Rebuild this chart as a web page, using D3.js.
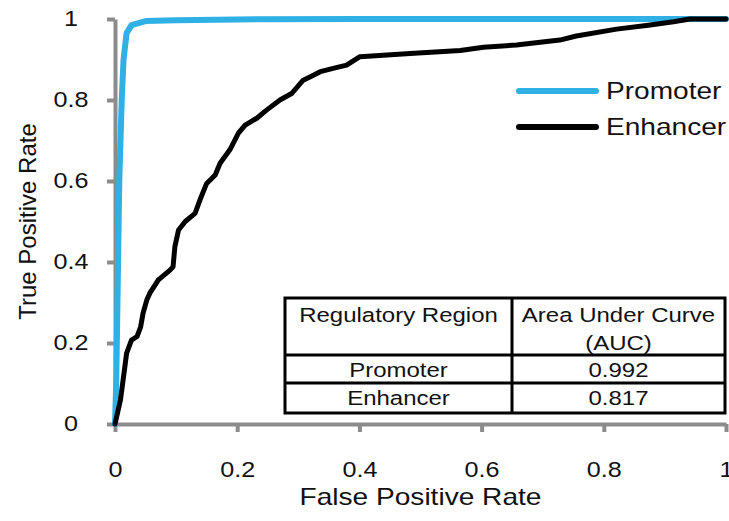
<!DOCTYPE html>
<html>
<head>
<meta charset="utf-8">
<script src="https://cdn.jsdelivr.net/npm/d3@7"></script>
<style>
  body { margin: 0; background: #fff; }
  svg { display: block; font-family: "Liberation Sans", Arial, sans-serif; }
  .axis path, .axis line { stroke: #8c8c8c; stroke-width: 4; }
  .axis text { fill: #111; }
</style>
</head>
<body>
<div id="chart"></div>
<script>
/* ============================================================
   DATA
============================================================ */

const xTicks = [0, 0.2, 0.4, 0.6, 0.8, 1];
const yTicks = [0, 0.2, 0.4, 0.6, 0.8, 1];

const promoterFPR = [0, 0.002, 0.004, 0.007, 0.011, 0.014, 0.019, 0.027, 0.05, 0.1, 0.2, 0.4, 1];
const promoterTPR = [0, 0.1, 0.3, 0.6, 0.8, 0.9, 0.965, 0.985, 0.995, 0.997, 0.999, 1, 1];

const enhancerFPR = [0, 0.009, 0.016, 0.019, 0.027, 0.036, 0.042, 0.046, 0.052, 0.057, 0.071, 0.09, 0.095,
    0.098, 0.104, 0.115, 0.131, 0.139, 0.15, 0.164, 0.172, 0.188, 0.202, 0.213, 0.232, 0.248, 0.27,
    0.289, 0.308, 0.319, 0.336, 0.357, 0.379, 0.401, 0.483, 0.565, 0.603, 0.657, 0.728, 0.755,
    0.821, 0.876, 0.914, 0.941, 1];
const enhancerTPR = [0, 0.06, 0.14, 0.175, 0.207, 0.216, 0.24, 0.274, 0.306, 0.323, 0.356, 0.38, 0.388,
    0.438, 0.479, 0.5, 0.52, 0.553, 0.594, 0.615, 0.644, 0.677, 0.718, 0.738, 0.755, 0.775, 0.8,
    0.816, 0.849, 0.857, 0.87, 0.878, 0.886, 0.907, 0.915, 0.922, 0.93, 0.936, 0.948, 0.958,
    0.975, 0.985, 0.993, 1, 1];

const seriesNames = ["Promoter", "Enhancer"];
const seriesColors = ["#2fb1e5", "#000000"];

const tableHeader = ["Regulatory Region", "Area Under Curve", "(AUC)"];
const tableRegions = ["Promoter", "Enhancer"];
const tableAUC = ["0.992", "0.817"];

/* ============================================================
   LAYOUT
============================================================ */

const W = 729, H = 521;
const margin = { top: 19, right: 3, bottom: 97, left: 115 };
const width = W - margin.left - margin.right;
const height = H - margin.top - margin.bottom;
const STRETCH = 1.17;   // the source image is a bit wide, text looks stretched

const svg = d3.select("#chart").append("svg")
    .attr("width", W)
    .attr("height", H);

const g = svg.append("g")
    .attr("transform", `translate(${margin.left},${margin.top})`);

const x = d3.scaleLinear().domain([0, 1]).range([0, width]);
const y = d3.scaleLinear().domain([0, 1]).range([height, 0]);

// widen a text selection to mimic the stretched source
function stretch(sel) {
    sel.each(function () {
        const len = this.getComputedTextLength();
        d3.select(this)
            .attr("textLength", len * STRETCH)
            .attr("lengthAdjust", "spacingAndGlyphs");
    });
}

/* ============================================================
   AXES
============================================================ */

const yAxis = g.append("g")
    .attr("class", "axis")
    .call(d3.axisLeft(y).tickValues(yTicks).tickSize(8).tickSizeOuter(0)
        .tickFormat(d => d));

yAxis.selectAll("text")
    .attr("x", -44)
    .attr("text-anchor", "middle")
    .attr("font-size", "21.5px")
    .call(stretch);

const xAxis = g.append("g")
    .attr("class", "axis")
    .attr("transform", `translate(0,${height})`)
    .call(d3.axisBottom(x).tickValues(xTicks).tickSize(8).tickSizeOuter(0)
        .tickFormat(d => d));

xAxis.selectAll("text")
    .attr("y", 38)
    .attr("font-size", "21.5px")
    .call(stretch);

svg.selectAll(".axis path.domain").attr("stroke-linecap", "butt");

svg.append("text")
    .attr("x", margin.left + width / 2)
    .attr("y", 505)
    .attr("text-anchor", "middle")
    .attr("font-size", "24px")
    .attr("fill", "#111")
    .text("False Positive Rate")
    .call(stretch);

svg.append("text")
    .attr("transform", `translate(36,${margin.top + height / 2}) rotate(-90)`)
    .attr("text-anchor", "middle")
    .attr("font-size", "24px")
    .attr("fill", "#111")
    .text("True Positive Rate");

/* ============================================================
   CURVES
============================================================ */

const line = d3.line()
    .x(d => x(d[0]))
    .y(d => y(d[1]));

const promoter = d3.zip(promoterFPR, promoterTPR);
const enhancer = d3.zip(enhancerFPR, enhancerTPR);

g.append("path")
    .datum(promoter)
    .attr("d", line)
    .attr("fill", "none")
    .attr("stroke", seriesColors[0])
    .attr("stroke-width", 6)
    .attr("stroke-linejoin", "round")
    .attr("stroke-linecap", "round");

g.append("path")
    .datum(enhancer)
    .attr("d", line)
    .attr("fill", "none")
    .attr("stroke", seriesColors[1])
    .attr("stroke-width", 5)
    .attr("stroke-linejoin", "round")
    .attr("stroke-linecap", "round");

/* ============================================================
   LEGEND
============================================================ */

const legend = svg.append("g")
    .attr("transform", "translate(519,91)");

seriesNames.forEach((name, i) => {
    const row = legend.append("g").attr("transform", `translate(0,${i * 36})`);
    row.append("line")
        .attr("x1", 0).attr("x2", 77)
        .attr("stroke", seriesColors[i])
        .attr("stroke-width", 6)
        .attr("stroke-linecap", "round");
    row.append("text")
        .attr("x", 87)
        .attr("y", 8)
        .attr("font-size", "24px")
        .attr("fill", "#111")
        .text(name)
        .call(stretch);
});

/* ============================================================
   AUC TABLE
============================================================ */

const tbl = { x0: 285, x1: 512, x2: 725, y0: 298, y1: 355, y2: 383, y3: 413 };
const table = svg.append("g");

table.append("rect")
    .attr("x", tbl.x0).attr("y", tbl.y0)
    .attr("width", tbl.x2 - tbl.x0).attr("height", tbl.y3 - tbl.y0)
    .attr("fill", "#fff")
    .attr("stroke", "#000")
    .attr("stroke-width", 3);

[[tbl.x1, tbl.y0, tbl.x1, tbl.y3],
 [tbl.x0, tbl.y1, tbl.x2, tbl.y1],
 [tbl.x0, tbl.y2, tbl.x2, tbl.y2]].forEach(l => {
    table.append("line")
        .attr("x1", l[0]).attr("y1", l[1])
        .attr("x2", l[2]).attr("y2", l[3])
        .attr("stroke", "#000")
        .attr("stroke-width", 3);
});

const c1 = (tbl.x0 + tbl.x1) / 2;
const c2 = (tbl.x1 + tbl.x2) / 2;

const cells = [
    [c1, 322, tableHeader[0]],
    [c2, 322, tableHeader[1]],
    [c2, 350, tableHeader[2]],
    [c1, 377, tableRegions[0]],
    [c2, 377, tableAUC[0]],
    [c1, 405, tableRegions[1]],
    [c2, 405, tableAUC[1]]
];

table.selectAll("text.cell")
    .data(cells)
    .join("text")
    .attr("class", "cell")
    .attr("x", d => d[0])
    .attr("y", d => d[1])
    .attr("text-anchor", "middle")
    .attr("font-size", "20.5px")
    .attr("fill", "#111")
    .text(d => d[2])
    .call(stretch);
</script>
</body>
</html>
